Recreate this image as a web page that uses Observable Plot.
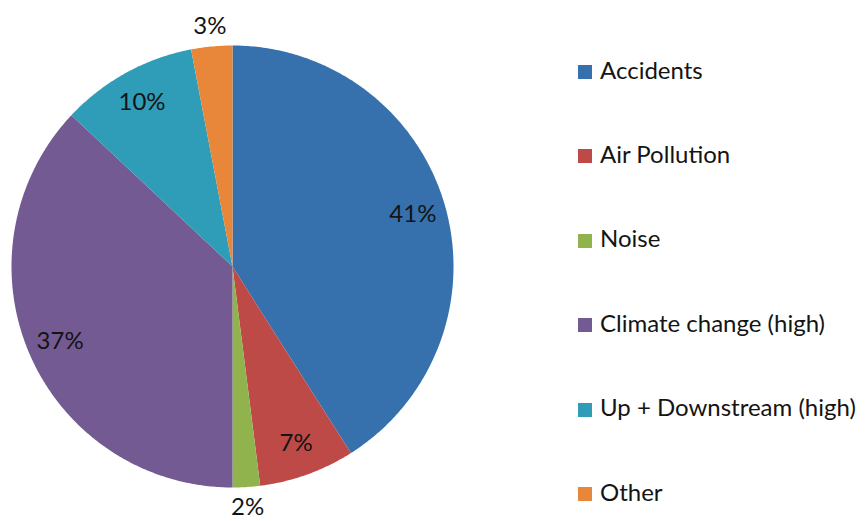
<!DOCTYPE html>
<html><head><meta charset="utf-8">
<script src="https://cdn.jsdelivr.net/npm/d3@7"></script>
<script src="https://cdn.jsdelivr.net/npm/@observablehq/plot@0.6"></script>
<style>
body{margin:0;background:#fff;}
#wrap{position:relative;width:865px;height:521px;font-family:Lato,sans-serif;overflow:hidden;}
#wrap svg{position:absolute;left:0;top:0;}
#legend{position:absolute;left:578px;top:0;}
.item{position:absolute;left:0;height:30px;white-space:nowrap;display:flex;align-items:center;font-size:24px;color:#141414;}
.sw{width:14px;height:14px;margin-right:8px;margin-top:6px;}
</style></head><body><div id="wrap"></div>
<script>
const categories = ["Accidents","Air Pollution","Noise","Climate change (high)","Up + Downstream (high)","Other"];
const shares = [41,7,2,37,10,3];
const colors = ["#3671ad","#bd4a46","#90b34d","#735a92","#2f9cb8","#e8873a"];

const W = 865, H = 521, CX = 232, CY = 266, R = 221;

const arcs = d3.pie().sort(null).value(d => d.share)(categories.map((name, i) => ({name, share: shares[i]})));

const slicePts = [];
arcs.forEach(a => {
  const name = a.data.name;
  slicePts.push({name, x: 0, y: 0});
  const n = Math.max(4, Math.ceil((a.endAngle - a.startAngle) / 0.01));
  for (let k = 0; k <= n; k++) {
    const t = a.startAngle + (a.endAngle - a.startAngle) * k / n;
    slicePts.push({name, x: Math.sin(t), y: Math.cos(t)});
  }
  slicePts.push({name, x: 0, y: 0});
});

const labels = arcs.map(a => {
  const m = (a.startAngle + a.endAngle) / 2;
  const r = a.data.share < 5 ? 1.09 : 0.85;
  return {text: a.data.share + "%", x: r * Math.sin(m), y: r * Math.cos(m)};
});

const chart = Plot.plot({
  width: W, height: H,
  margin: 0,
  x: {domain: [-CX / R, (W - CX) / R], axis: null},
  y: {domain: [-(H - CY) / R, CY / R], axis: null},
  color: {domain: categories, range: colors},
  style: {background: "transparent", fontFamily: "Lato, sans-serif"},
  marks: [
    Plot.line(slicePts, {x: "x", y: "y", z: "name", fill: "name", stroke: "none", curve: "linear"}),
    Plot.text(labels, {x: "x", y: "y", text: "text", fontSize: 24, fill: "#141414"})
  ]
});

const wrap = document.getElementById("wrap");
wrap.appendChild(chart);
const color = chart.scale("color");
const legend = document.createElement("div");
legend.id = "legend";
categories.forEach((c, i) => {
  const it = document.createElement("div");
  it.className = "item";
  it.style.top = (71 + i * 84.4 - 17) + "px";
  const sw = document.createElement("span");
  sw.className = "sw";
  sw.style.background = color.apply(c);
  const tx = document.createElement("span");
  tx.textContent = c;
  it.appendChild(sw); it.appendChild(tx);
  legend.appendChild(it);
});
wrap.appendChild(legend);
</script></body></html>
